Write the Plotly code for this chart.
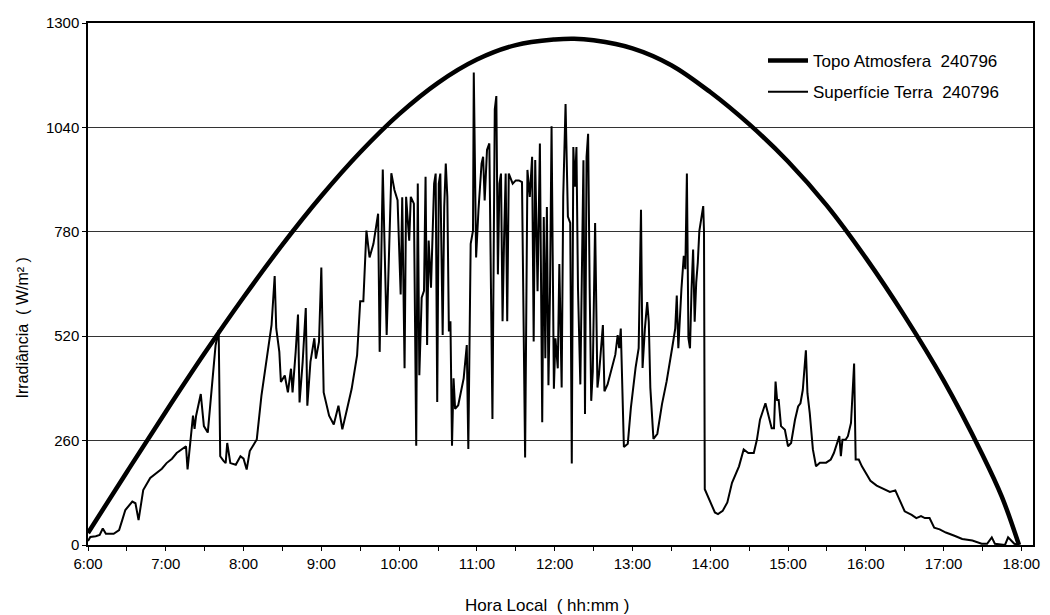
import plotly.graph_objects as go

# ---- data (hours as decimal, irradiance W/m2) ----
topo_hours = [6.0, 6.5, 7.0, 7.5, 8.0, 8.5, 9.0, 9.5, 10.0, 10.5, 11.0, 11.5, 12.0,
              12.25, 12.5, 13.0, 13.5, 14.0, 14.5, 15.0, 15.5, 16.0, 16.5, 17.0,
              17.5, 17.75, 17.97]
topo_values = [30, 182, 332, 478, 617, 748, 869, 978, 1073, 1151, 1209, 1245, 1259,
               1261, 1257, 1237, 1195, 1128, 1048, 955, 845, 715, 570, 410,
               225, 120, 0]

surf_hours = [
    6.00, 6.03, 6.10, 6.15, 6.19, 6.23, 6.33, 6.40, 6.44, 6.48, 6.57, 6.61, 6.65, 6.71,
    6.80, 6.88, 6.95, 7.01, 7.08, 7.14, 7.20, 7.26, 7.28, 7.33, 7.35, 7.37, 7.39, 7.45,
    7.49, 7.54, 7.58, 7.64, 7.68, 7.70, 7.74, 7.77, 7.79, 7.83, 7.90, 7.96, 8.00, 8.04,
    8.08, 8.17, 8.23, 8.29, 8.36, 8.40, 8.42, 8.46, 8.48, 8.53, 8.57, 8.61, 8.63, 8.67,
    8.70, 8.72, 8.76, 8.80, 8.82, 8.86, 8.91, 8.93, 8.97, 9.00, 9.03, 9.10, 9.16, 9.22,
    9.27, 9.33, 9.39, 9.46, 9.50, 9.54, 9.58, 9.62, 9.67, 9.73, 9.75, 9.79, 9.81, 9.84,
    9.90, 9.94, 9.98, 10.02, 10.04, 10.07, 10.09, 10.13, 10.15, 10.19, 10.22, 10.24,
    10.26, 10.29, 10.32, 10.34, 10.36, 10.38, 10.41, 10.45, 10.47, 10.49, 10.51, 10.53,
    10.56, 10.58, 10.60, 10.62, 10.64, 10.66, 10.68, 10.70, 10.72, 10.76, 10.83, 10.87,
    10.89, 10.92, 10.95, 10.96, 10.99, 11.02, 11.06, 11.08, 11.10, 11.13, 11.16, 11.20,
    11.23, 11.25, 11.27, 11.29, 11.31, 11.33, 11.35, 11.37, 11.39, 11.41, 11.46, 11.50,
    11.54, 11.58, 11.62, 11.65, 11.68, 11.71, 11.73, 11.75, 11.78, 11.81, 11.84, 11.86,
    11.88, 11.90, 11.92, 11.94, 11.96, 11.99, 12.01, 12.04, 12.06, 12.09, 12.11, 12.14,
    12.17, 12.20, 12.22, 12.24, 12.26, 12.28, 12.30, 12.33, 12.37, 12.39, 12.41, 12.43,
    12.45, 12.47, 12.49, 12.52, 12.55, 12.57, 12.62, 12.64, 12.68, 12.72, 12.78, 12.81,
    12.83, 12.85, 12.87, 12.89, 12.94, 12.98, 13.04, 13.08, 13.11, 13.13, 13.16, 13.19,
    13.21, 13.23, 13.27, 13.32, 13.38, 13.44, 13.51, 13.55, 13.57, 13.59, 13.63, 13.66,
    13.68, 13.70, 13.72, 13.74, 13.76, 13.78, 13.80, 13.82, 13.84, 13.86, 13.91, 13.92,
    13.93, 13.97, 14.01, 14.06, 14.10, 14.16, 14.22, 14.28, 14.37, 14.43, 14.49, 14.56,
    14.60, 14.64, 14.71, 14.75, 14.79, 14.82, 14.84, 14.86, 14.88, 14.91, 14.96, 15.00,
    15.04, 15.09, 15.13, 15.16, 15.19, 15.23, 15.25, 15.28, 15.32, 15.36, 15.41, 15.49,
    15.55, 15.59, 15.64, 15.66, 15.68, 15.70, 15.74, 15.77, 15.81, 15.85, 15.87, 15.91,
    15.95, 16.00, 16.06, 16.14, 16.23, 16.31, 16.38, 16.44, 16.50, 16.59, 16.65, 16.71,
    16.76, 16.82, 16.88, 16.95, 17.03, 17.14, 17.24, 17.37, 17.49, 17.56, 17.62, 17.66,
    17.79, 17.83, 17.91, 17.97,
]
surf_values = [
    10, 20, 22, 25, 41, 28, 28, 37, 62, 87, 108, 104, 62, 137,
    167, 179, 190, 204, 215, 229, 238, 246, 188, 288, 322, 289, 322, 376,
    296, 280, 372, 497, 535, 221, 210, 204, 254, 204, 200, 221, 215, 188,
    234, 263, 372, 456, 548, 670, 540, 481, 406, 422, 380, 439, 380, 481,
    574, 355, 456, 590, 347, 456, 515, 464, 506, 691, 380, 322, 300, 347,
    288, 338, 389, 473, 607, 607, 783, 716, 750, 825, 481, 935, 741, 523,
    926, 884, 859, 624, 866, 440, 867, 758, 867, 850, 247, 900,
    423, 616, 633, 917, 498, 758, 641, 900, 925, 356, 900, 925,
    523, 842, 950, 867, 532, 557, 247, 415, 339, 348, 415, 498,
    239, 750, 783, 1177, 716, 833, 950, 967, 858, 984, 1000, 314,
    1085, 1118, 674, 900, 925, 557, 766, 925, 557, 925, 900, 908,
    908, 904, 218, 934, 867, 967, 507, 959, 632, 1000, 306, 817,
    465, 842, 398, 632, 1043, 389, 515, 440, 700, 392, 868, 1098,
    818, 802, 203, 991, 892, 991, 638, 400, 958, 326, 966, 1024,
    638, 359, 432, 802, 392, 425, 548, 383, 400, 432, 474, 523,
    490, 539, 392, 244, 252, 342, 441, 490, 835, 441, 539, 605,
    556, 392, 264, 277, 351, 408, 490, 539, 621, 490, 638, 720,
    687, 925, 515, 490, 638, 736, 556, 654, 703, 782, 844, 782,
    139, 122, 106, 81, 77, 85, 106, 155, 196, 238, 229, 229,
    262, 312, 353, 320, 291, 291, 407, 361, 361, 296, 287, 246,
    254, 312, 345, 353, 386, 485, 378, 328, 238, 196, 205, 205,
    213, 229, 262, 271, 221, 262, 262, 271, 304, 452, 213, 213,
    196, 180, 160, 148, 140, 132, 136, 108, 84, 75, 67, 72,
    67, 67, 43, 39, 31, 23, 15, 11, 3, 3, 19, 3,
    0, 19, 3, 0,
]

x_tick_vals = [6, 7, 8, 9, 10, 11, 12, 13, 14, 15, 16, 17, 18]
x_tick_text = ["6:00", "7:00", "8:00", "9:00", "10:00", "11:00", "12:00",
               "13:00", "14:00", "15:00", "16:00", "17:00", "18:00"]
y_tick_vals = [0, 260, 520, 780, 1040, 1300]

FONT = "Liberation Sans, Arial, sans-serif"

fig = go.Figure()
fig.add_trace(go.Scatter(
    x=topo_hours, y=topo_values, mode="lines",
    name="Topo Atmosfera\u00a0 240796", legendgroup="a",
    line=dict(color="black", width=4.5, shape="spline", smoothing=1.0),
))
fig.add_trace(go.Scatter(
    x=surf_hours, y=surf_values, mode="lines",
    name="Superfície Terra\u00a0 240796", legendgroup="b",
    line=dict(color="black", width=2),
))

L, R, T, B = 88, 10, 23, 70
W, H = 1050, 615
pw = W - L - R
ph = H - T - B

fig.update_layout(
    width=W, height=H,
    margin=dict(l=L, r=R, t=T, b=B),
    paper_bgcolor="white", plot_bgcolor="white",
    font=dict(family=FONT, size=15, color="black"),
    showlegend=True,
    legend=dict(
        x=(768 - L) / pw, y=1 - (43 - T) / ph, xanchor="left", yanchor="top",
        bgcolor="rgba(0,0,0,0)", borderwidth=0, itemwidth=40,
        tracegroupgap=6, font=dict(family=FONT, size=17, color="black"),
    ),
    xaxis=dict(
        range=[6, 18.15], tickvals=x_tick_vals, ticktext=x_tick_text,
        ticks="outside", ticklen=4, tickcolor="black", tickwidth=1,
        minor=dict(dtick=0.5, tick0=6, ticks="outside", ticklen=4, tickcolor="black"),
        showgrid=False, zeroline=False,
        showline=True, mirror=True, linecolor="black", linewidth=1.5,
        tickfont=dict(family=FONT, size=15, color="black"),
    ),
    yaxis=dict(
        range=[0, 1300], tickvals=y_tick_vals,
        ticks="outside", ticklen=4, tickcolor="black",
        showgrid=True, gridcolor="#333333", gridwidth=1, zeroline=False,
        showline=True, mirror=True, linecolor="black", linewidth=1.5,
        tickfont=dict(family=FONT, size=15, color="black"),
    ),
    annotations=[
        dict(text="Irradiância\u00a0 ( W/m² )", xref="paper", yref="paper",
             x=(22 - L) / pw, y=1 - (328 - T) / ph, xanchor="center", yanchor="middle",
             textangle=-90, showarrow=False, font=dict(family=FONT, size=16, color="black")),
        dict(text="Hora Local\u00a0 ( hh:mm )", xref="paper", yref="paper",
             x=(550 - L) / pw, y=1 - (605 - T) / ph, xanchor="center", yanchor="middle",
             showarrow=False, font=dict(family=FONT, size=17, color="black")),
    ],
)

fig.write_html("out.html")
